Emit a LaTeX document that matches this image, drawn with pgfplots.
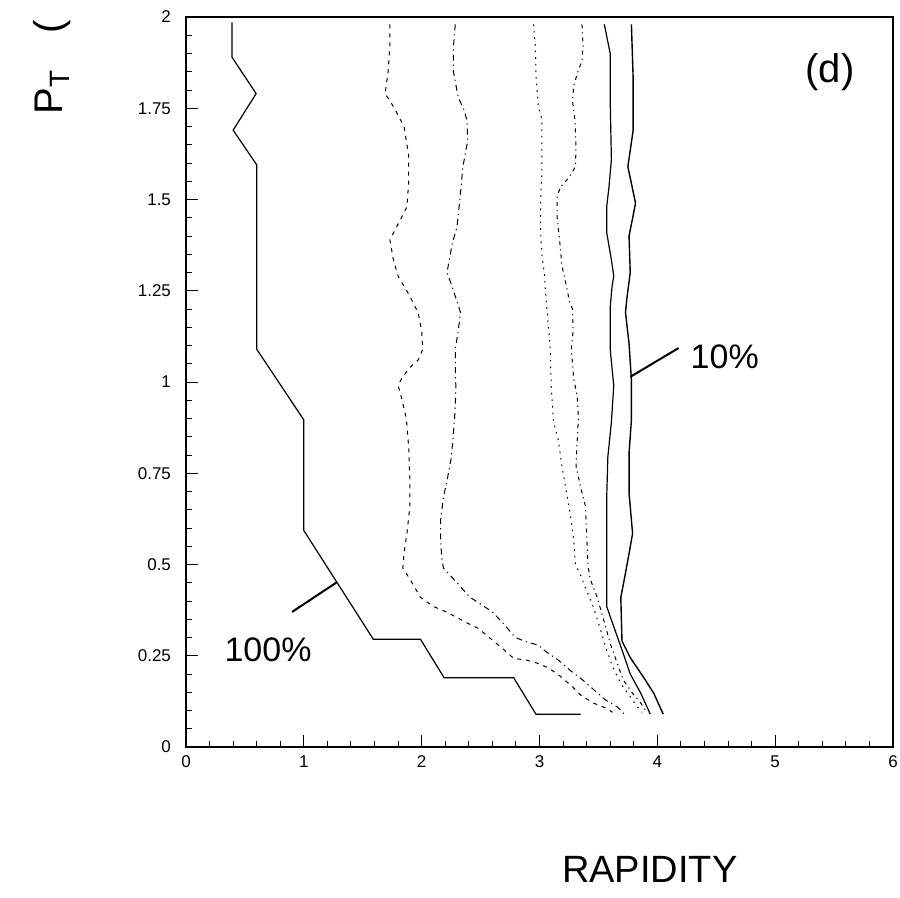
\documentclass[border=0pt]{standalone}
\usepackage{fontspec}
\setmainfont{Liberation Sans}
\usepackage{pgfplots}
\pgfplotsset{compat=1.18}
\begin{document}
\begin{tikzpicture}
\begin{axis}[
  scale only axis,
  width=353.5pt, height=365pt,
  xmin=0, xmax=6, ymin=0, ymax=2,
  xtick={0,1,2,3,4,5,6},
  ytick={0,0.25,0.5,0.75,1,1.25,1.5,1.75,2},
  yticklabels={0,0.25,0.5,0.75,1,1.25,1.5,1.75,2},
  minor x tick num=4, minor y tick num=4,
  tick align=inside,
  xtick pos=bottom, ytick pos=left,
  major tick length=6pt, minor tick length=3pt,
  tick style={black, line width=0.5pt},
  axis line style={black, line width=0.6pt},
  /pgf/number format/assume math mode=true,
  ticklabel style={font=\fontsize{8.5}{10}\selectfont},
  yticklabel style={xshift=-4pt},
  xticklabel style={yshift=-1pt},
  clip=false,
]
% 100%
\addplot[black, line width=0.6pt] coordinates {
(0.39,1.985)(0.39,1.89)(0.595,1.79)(0.40,1.69)(0.60,1.595)(0.60,1.09)(1.0,0.896)(1.0,0.593)(1.59,0.295)(1.99,0.295)(2.19,0.19)(2.78,0.19)(2.97,0.09)(3.35,0.09)};
% curve 2
\addplot[black, line width=0.5pt, dash pattern=on 2pt off 2.5pt] coordinates {
(1.73,1.98)(1.73,1.92)(1.715,1.85)(1.69,1.79)(1.76,1.755)(1.85,1.70)(1.89,1.62)(1.89,1.55)(1.875,1.48)(1.78,1.42)(1.73,1.39)(1.76,1.335)(1.80,1.29)(1.90,1.235)(1.97,1.19)(2.0,1.14)(2.01,1.09)(1.97,1.06)(1.90,1.04)(1.83,1.01)(1.80,0.99)(1.83,0.955)(1.87,0.90)(1.89,0.82)(1.90,0.73)(1.90,0.66)(1.875,0.585)(1.85,0.53)(1.84,0.49)(1.90,0.46)(1.99,0.41)(2.10,0.385)(2.21,0.37)(2.385,0.34)(2.48,0.325)(2.60,0.293)(2.70,0.266)(2.78,0.243)(2.89,0.238)(2.99,0.229)(3.08,0.216)(3.18,0.193)(3.28,0.165)(3.35,0.142)(3.46,0.12)(3.57,0.106)(3.62,0.095)};
% curve 3
\addplot[black, line width=0.5pt, dash pattern=on 3pt off 2pt on 0.6pt off 2pt] coordinates {
(2.285,1.98)(2.27,1.92)(2.27,1.85)(2.31,1.78)(2.36,1.745)(2.385,1.715)(2.39,1.66)(2.35,1.59)(2.33,1.52)(2.30,1.425)(2.26,1.38)(2.215,1.30)(2.26,1.26)(2.285,1.235)(2.33,1.19)(2.31,1.14)(2.285,1.09)(2.285,1.025)(2.29,0.99)(2.285,0.93)(2.27,0.86)(2.25,0.79)(2.215,0.73)(2.185,0.685)(2.16,0.62)(2.16,0.57)(2.17,0.52)(2.185,0.49)(2.30,0.45)(2.41,0.41)(2.47,0.398)(2.60,0.37)(2.68,0.343)(2.795,0.30)(2.89,0.288)(2.99,0.279)(3.06,0.26)(3.16,0.238)(3.26,0.21)(3.35,0.188)(3.45,0.16)(3.56,0.129)(3.66,0.11)(3.72,0.09)};
% curve 4
\addplot[black, line width=0.5pt, dash pattern=on 0.8pt off 2.5pt] coordinates {
(2.95,1.98)(2.965,1.92)(2.97,1.84)(2.99,1.755)(3.02,1.72)(3.02,1.645)(3.02,1.57)(3.01,1.50)(3.01,1.41)(3.02,1.35)(3.04,1.30)(3.05,1.25)(3.065,1.19)(3.09,1.10)(3.10,0.98)(3.12,0.89)(3.16,0.84)(3.19,0.77)(3.23,0.695)(3.26,0.64)(3.29,0.57)(3.305,0.50)(3.35,0.47)(3.375,0.448)(3.45,0.39)(3.51,0.33)(3.56,0.275)(3.62,0.22)(3.69,0.174)(3.77,0.138)(3.83,0.11)(3.87,0.095)};
% curve 5
\addplot[black, line width=0.5pt, dash pattern=on 2pt off 2pt on 0.6pt off 2pt] coordinates {
(3.36,1.98)(3.37,1.92)(3.36,1.88)(3.32,1.845)(3.29,1.81)(3.28,1.77)(3.30,1.72)(3.31,1.645)(3.305,1.59)(3.25,1.56)(3.18,1.535)(3.15,1.51)(3.15,1.45)(3.17,1.39)(3.19,1.32)(3.24,1.245)(3.25,1.225)(3.28,1.20)(3.285,1.14)(3.27,1.09)(3.29,1.01)(3.32,0.96)(3.33,0.90)(3.32,0.84)(3.31,0.77)(3.35,0.71)(3.39,0.66)(3.40,0.585)(3.41,0.50)(3.43,0.46)(3.49,0.41)(3.545,0.348)(3.60,0.284)(3.66,0.229)(3.71,0.184)(3.79,0.147)(3.86,0.12)(3.91,0.095)};
% curve 6
\addplot[black, line width=0.6pt] coordinates {
(3.55,1.98)(3.60,1.90)(3.60,1.77)(3.61,1.61)(3.59,1.535)(3.57,1.48)(3.57,1.41)(3.61,1.335)(3.63,1.29)(3.615,1.26)(3.60,1.205)(3.60,1.09)(3.63,0.99)(3.61,0.89)(3.58,0.795)(3.57,0.68)(3.57,0.55)(3.57,0.385)(3.63,0.33)(3.70,0.266)(3.77,0.20)(3.86,0.147)(3.94,0.09)};
% curve 7 (10%)
\addplot[black, line width=0.7pt] coordinates {
(3.78,1.98)(3.795,1.83)(3.795,1.69)(3.75,1.59)(3.815,1.49)(3.76,1.40)(3.77,1.30)(3.74,1.225)(3.73,1.19)(3.76,1.105)(3.78,1.005)(3.78,0.896)(3.76,0.805)(3.76,0.695)(3.79,0.585)(3.76,0.53)(3.72,0.46)(3.69,0.41)(3.70,0.29)(3.77,0.245)(3.885,0.19)(3.97,0.147)(4.05,0.09)};
% pointer lines
\addplot[black, line width=1pt] coordinates {(3.77,1.014)(4.18,1.093)};
\addplot[black, line width=1pt] coordinates {(0.90,0.37)(1.283,0.452)};
% annotations
\node[font=\fontsize{17}{20}\selectfont] at (rel axis cs:0.762,0.534) {10\%};
\node[font=\fontsize{17}{20}\selectfont] at (rel axis cs:0.116,0.133) {100\%};
\node[font=\fontsize{20}{24}\selectfont] at (rel axis cs:0.911,0.925) {(d)};
\node[font=\fontsize{19}{22}\selectfont] at (rel axis cs:0.656,-0.168) {RAPIDITY};
\node[font=\fontsize{20}{24}\selectfont, rotate=90, anchor=base west, inner sep=0pt] at (rel axis cs:-0.174,0.866) {P\textsubscript{T}\hspace{18pt}(};
\coordinate (bl) at (rel axis cs:-0.2631,-0.2068);
\coordinate (tr) at (rel axis cs:1.0099,1.0233);
\end{axis}
\pgfresetboundingbox
\path[use as bounding box] (bl) rectangle (tr);
\end{tikzpicture}
\end{document}
